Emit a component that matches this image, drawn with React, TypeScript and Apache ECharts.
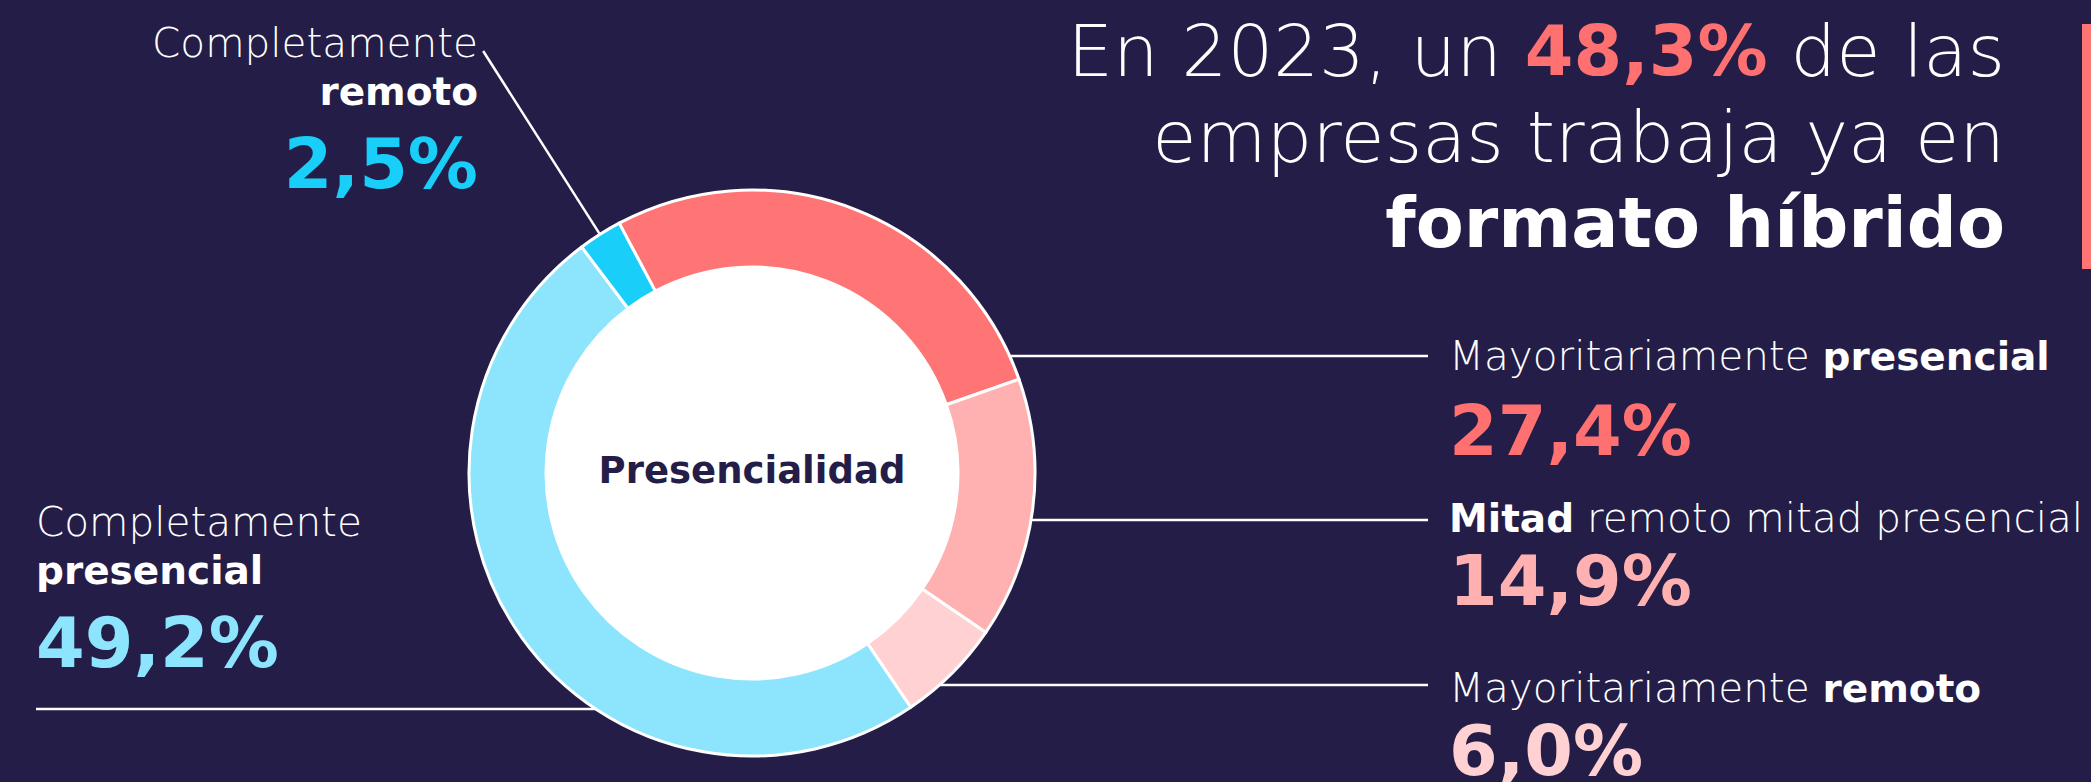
import React, { useEffect, useRef } from "react";
import * as echarts from "echarts";

// ---------- data ----------
const categories = [
  "Mayoritariamente presencial",
  "Mitad remoto mitad presencial",
  "Mayoritariamente remoto",
  "Completamente presencial",
  "Completamente remoto",
];
const values = [27.4, 14.9, 6.0, 49.2, 2.5];
const hybridIdx = [0, 1, 2];
const labelRich = [
  "{t|Mayoritariamente }{b|presencial}",
  "{b|Mitad}{t| remoto mitad presencial}",
  "{t|Mayoritariamente }{b|remoto}",
  "{t|Completamente}\n{b|presencial}",
  "{t|Completamente}\n{b|remoto}",
];
const centerLabel = "Presencialidad";
const titleParts = ["En 2023, un ", " de las", "empresas trabaja ya en", "formato híbrido"];

// ---------- style ----------
const sliceColors = ["#FF7575", "#FFB1B1", "#FFD1D3", "#8CE5FD", "#19CEF8"];
const pctColors = ["#FF7070", "#FFB1B1", "#FFD1D3", "#8CE5FD", "#19CEF8"];
const BG = "#231D47";
const FONT = "'DejaVu Sans', sans-serif";
const W = 2091;
const H = 782;
const CX = 752;
const CY = 473;
const R_IN = 206;
const R_OUT = 283;
const START = 118;

const labelPos: any[] = [
  { x: 1449, y: 332, align: "left", lineY: 356, lineEndX: 1428 },
  { x: 1449, y: 494, align: "left", lineY: 520, lineEndX: 1428 },
  { x: 1449, y: 664, align: "left", lineY: 685, lineEndX: 1428 },
  { x: 36, y: 498, align: "left", lineY: 709, lineEndX: 36 },
  { x: 478, y: 19, align: "right", radialEndY: 51 },
];
const pctLineHeight = [101, 77, 78, 98, 98];

const fmt = (v: number) => v.toFixed(1).replace(".", ",") + "%";

export default function App() {
  const ref = useRef<HTMLDivElement>(null);
  useEffect(() => {
    if (!ref.current) return;
    const chart = echarts.init(ref.current, undefined, { renderer: "svg" });
    const total = values.reduce((a, b) => a + b, 0);
    const hybrid = hybridIdx.reduce((a, i) => a + values[i], 0);

    const rich: any = {
      t: { fontFamily: FONT, fontWeight: 200, fontSize: 40.5, color: "#fff", lineHeight: 48 },
      b: { fontFamily: FONT, fontWeight: "bold", fontSize: 39, color: "#fff", lineHeight: 48 },
    };
    values.forEach((_, i) => {
      rich["p" + i] = {
        fontFamily: FONT,
        fontWeight: "bold",
        fontSize: 70,
        color: pctColors[i],
        lineHeight: pctLineHeight[i],
      };
    });

    const midAngle = (i: number) => {
      let before = 0;
      for (let k = 0; k < i; k++) before += values[k];
      const deg = START - ((before + values[i] / 2) / total) * 360;
      return (deg * Math.PI) / 180;
    };

    const option: any = {
      animation: false,
      backgroundColor: BG,
      graphic: [
        { type: "circle", shape: { cx: CX, cy: CY, r: R_IN + 2 }, style: { fill: "#fff" } },
        {
          type: "text",
          x: CX,
          y: 470,
          style: {
            text: centerLabel,
            fill: BG,
            font: `bold 37px ${FONT}`,
            align: "center",
            verticalAlign: "middle",
            textAlign: "center",
            textVerticalAlign: "middle",
          },
        },
        {
          type: "text",
          x: 2005,
          y: 8,
          style: {
            text:
              "{l|" + titleParts[0] + "}{r|" + fmt(hybrid) + "}{l|" + titleParts[1] + "}\n{l|" +
              titleParts[2] + "}\n{b|" + titleParts[3] + "}",
            rich: {
              l: { fontFamily: FONT, fontWeight: 200, fontSize: 72, fill: "#fff", lineHeight: 86 },
              r: { fontFamily: FONT, fontWeight: "bold", fontSize: 70, fill: "#FF7070", lineHeight: 86 },
              b: { fontFamily: FONT, fontWeight: "bold", fontSize: 70, fill: "#fff", lineHeight: 86 },
            },
            align: "right",
            verticalAlign: "top",
            textAlign: "right",
            textVerticalAlign: "top",
          },
        },
        { type: "rect", shape: { x: 2082, y: 24, width: 9, height: 245 }, style: { fill: "#FF7575" } },
      ],
      series: [
        {
          type: "pie",
          center: [CX, CY],
          radius: [R_IN, R_OUT],
          startAngle: START,
          clockwise: true,
          avoidLabelOverlap: false,
          itemStyle: { borderColor: "#fff", borderWidth: 3 },
          label: {
            show: true,
            position: "outside",
            alignTo: "none",
            overflow: "none",
            width: 720,
            formatter: (p: any) => labelRich[p.dataIndex] + "\n{p" + p.dataIndex + "|" + fmt(p.value) + "}",
            rich,
          },
          labelLine: { show: true, lineStyle: { color: "#fff", width: 2.5 } },
          labelLayout: (params: any) => {
            const i = params.dataIndex;
            const lp = labelPos[i];
            let pts: number[][];
            if (lp.radialEndY != null) {
              const a = midAngle(i);
              const sx = CX + R_OUT * Math.cos(a);
              const sy = CY - R_OUT * Math.sin(a);
              const t = (sy - lp.radialEndY) / Math.sin(a);
              pts = [[sx, sy], [sx + t * Math.cos(a), lp.radialEndY]];
            } else {
              const dy = lp.lineY - CY;
              const dx = Math.sqrt(R_OUT * R_OUT - dy * dy);
              const sx = lp.lineEndX > CX ? CX + dx : CX - dx;
              pts = [[sx, lp.lineY], [lp.lineEndX, lp.lineY]];
            }
            return { x: lp.x, y: lp.y, align: lp.align, verticalAlign: "top", labelLinePoints: pts };
          },
          data: categories.map((name, i) => ({
            name,
            value: values[i],
            itemStyle: { color: sliceColors[i] },
          })),
        },
      ],
    };
    chart.setOption(option);
    return () => chart.dispose();
  }, []);
  return (
    <div
      ref={ref}
      style={{ position: "absolute", left: 0, top: 0, width: W, height: H, background: BG }}
    />
  );
}
